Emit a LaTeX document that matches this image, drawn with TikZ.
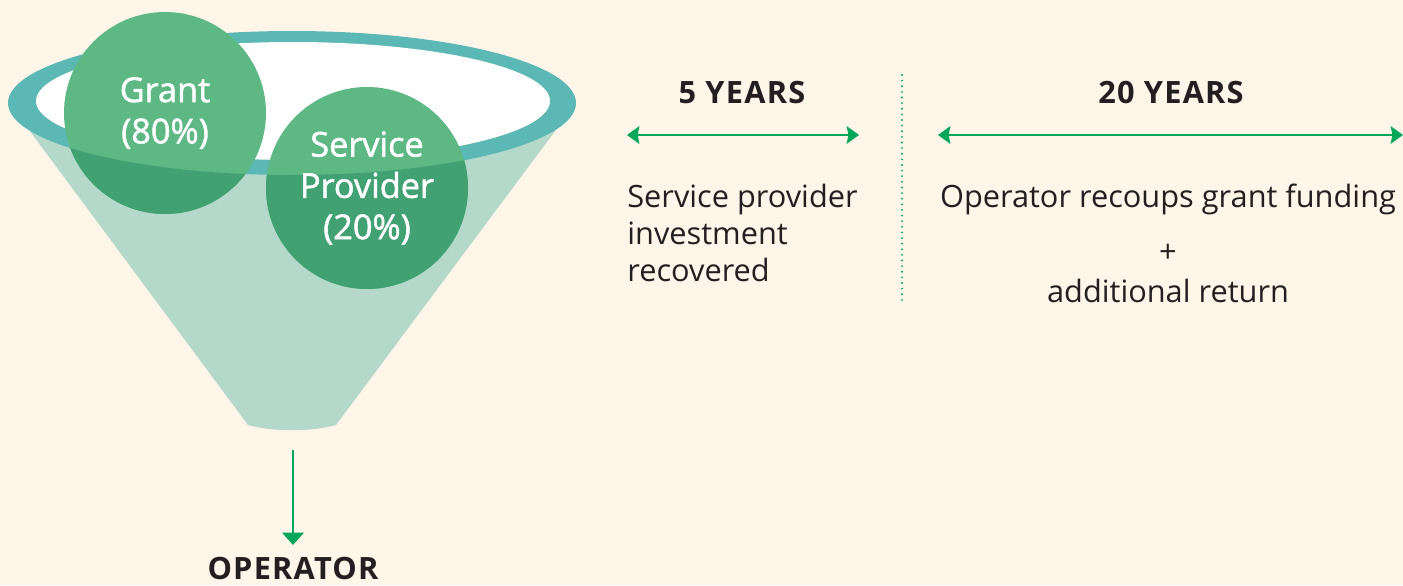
\documentclass[tikz,border=0pt]{standalone}
\usepackage{fontspec}
\setmainfont{Open Sans}
\newfontfamily\coinfont[FakeBold=1.5]{Open Sans}
\newfontfamily\headfont[LetterSpace=4]{Open Sans}
\usetikzlibrary{arrows.meta, positioning}
\definecolor{mycream}{RGB}{255,246,233}
\definecolor{myrim}{RGB}{92,184,181}
\definecolor{mycone}{RGB}{180,216,202}
\definecolor{coinlight}{RGB}{93,184,132}
\definecolor{coindark}{RGB}{66,161,115}
\definecolor{mygreen}{RGB}{0,166,90}
\definecolor{mydark}{RGB}{35,31,32}
\tikzset{
  coinlbl/.style={circle, minimum size=4.04cm, inner sep=0pt, align=center,
    text=white, font=\coinfont\fontsize{19.5}{23.5}\selectfont},
  yearhead/.style={anchor=base, inner sep=0pt, text=mydark, font=\headfont\fontsize{17.5}{20}\selectfont\bfseries},
  bodytext/.style={inner sep=0pt, text=mydark, font=\fontsize{17.5}{21}\selectfont},
  spanarrow/.style={{Stealth[length=7pt, width=10pt, inset=1pt]}-{Stealth[length=7pt, width=10pt, inset=1pt]},
    line width=1.4pt, color=mygreen},
  downarrow/.style={-{Triangle[length=7pt, width=12pt]}, line width=1.7pt, color=mygreen},
  sepline/.style={mygreen, line width=1.2pt, line cap=round, dash pattern=on 0pt off 3.2pt}
}

\begin{document}
\begin{tikzpicture}[x=0.02cm, y=-0.02cm]
  \useasboundingbox[fill=mycream] (0,0) rectangle (1403,585);

  % funnel body and rim
  \fill[mycone] (9,103) -- (248,425) .. controls (272,432) and (312,432) .. (336,425) -- (576,103) -- cycle;
  \fill[myrim] (292,103) ellipse [x radius=284, y radius=72];
  \fill[white] (293,101) ellipse [x radius=257, y radius=59];

  % the two contributions
  \coordinate (gc) at (165,113);
  \coordinate (sc) at (367,188);
  \fill[coinlight] (gc) circle [radius=101];
  \fill[coinlight] (sc) circle [radius=101];
  \begin{scope}
    \clip (9,103) -- (248,425) .. controls (272,432) and (312,432) .. (336,425) -- (576,103)
      arc [start angle=0, end angle=180, x radius=284, y radius=72] -- cycle;
    \fill[coindark] (gc) circle [radius=101];
    \fill[coindark] (sc) circle [radius=101];
  \end{scope}
  \node[coinlbl] (grant) at (gc) {Grant\\(80\%)};
  \node[coinlbl] (provider) at (sc) {Service\\Provider\\(20\%)};

  % output of the funnel
  \coordinate (spout) at (293,450);
  \node[yearhead] (operator) at (293,579) {OPERATOR};
  \draw[downarrow] (spout) -- (293,545);

  % payback periods
  \node[yearhead] (five) at (742,103) {5 YEARS};
  \node[yearhead] (twenty) at (1171,103) {20 YEARS};
  \coordinate (fiveL) at (627,135);
  \coordinate (fiveR) at (859,135);
  \coordinate (twentyL) at (938,135);
  \coordinate (twentyR) at (1403,135);
  \draw[spanarrow] (fiveL) -- (fiveR);
  \draw[spanarrow] (twentyL) -- (twentyR);

  \coordinate (sepTop) at (902,75);
  \coordinate (sepBot) at (902,303);
  \draw[sepline] (sepTop) -- (sepBot);

  \node[bodytext, anchor=base west, align=left] (recovered) at (627,281)
    {Service provider\\investment\\recovered};
  \node[bodytext, anchor=base] (recoups) at (1168,207) {Operator recoups grant funding};
  \node[bodytext] (plus) at (1168,253) {+};
  \node[bodytext, anchor=base] (extra) at (1168,302) {additional return};

\end{tikzpicture}
\end{document}
